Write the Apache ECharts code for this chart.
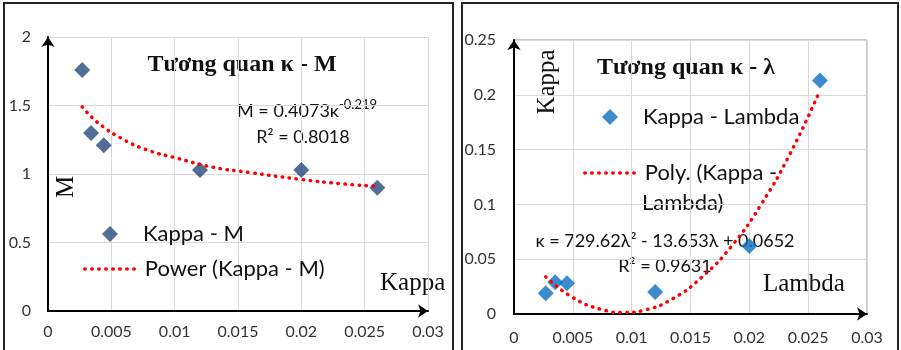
<!DOCTYPE html>
<html>
<head>
<meta charset="utf-8">
<script src="https://cdn.jsdelivr.net/npm/echarts@6/dist/echarts.min.js"></script>
<style>
  html, body { margin: 0; padding: 0; background: #fff; }
  #chart { width: 901px; height: 350px; }
</style>
</head>
<body>
<div id="chart"></div>
<script>
// Left chart: Kappa vs M
const kmKappa = [0.0027, 0.0034, 0.0044, 0.012, 0.020, 0.026]
const kmM = [1.76, 1.30, 1.21, 1.03, 1.03, 0.90]
// power trendline
const powKappa = [0.0027, 0.004, 0.006, 0.008, 0.010, 0.013, 0.016, 0.020, 0.023, 0.026]
const powM = [1.49, 1.37, 1.25, 1.17, 1.12, 1.05, 1.01, 0.96, 0.93, 0.91]

// Right chart: Lambda vs Kappa
const klLambda = [0.0027, 0.0035, 0.0045, 0.012, 0.020, 0.026]
const klKappa = [0.019, 0.029, 0.028, 0.020, 0.062, 0.213]
// polynomial trendline
const polyLambda = [0.0027, 0.005, 0.0075, 0.0094, 0.011, 0.0135, 0.016, 0.0185, 0.021, 0.0235, 0.026]
const polyKappa = [0.034, 0.015, 0.004, 0.0013, 0.0033, 0.014, 0.034, 0.062, 0.100, 0.147, 0.204]

const zip = (a, b) => a.map((v, i) => [v, b[i]])

const SANS = 'Lato'
const SERIF = '"Liberation Serif", "DejaVu Serif", serif'

const gridLine = { show: true, lineStyle: { color: '#d9d9d9', width: 1 } }
const axisLine = {
  show: true,
  onZero: false,
  symbol: ['none', 'arrow'],
  symbolSize: [10, 10],
  lineStyle: { color: '#000', width: 2 }
}
const dotted = { color: '#ff0000', width: 3.5, type: [0.5, 6.5], cap: 'round' }
const legendText = { fontFamily: SANS, fontSize: 22, lineHeight: 24, color: '#111' }

const txt = (x, y, text, font, align, extra) => Object.assign({
  type: 'text',
  x: x,
  y: y,
  style: {
    text: text,
    font: font,
    fill: '#111',
    align: align || 'center',
    textAlign: align || 'center',
    verticalAlign: 'middle',
    textVerticalAlign: 'middle'
  }
}, extra || {})

// one legend per entry so diamonds stay square and lines stay wide
const markerLegend = (name, cx, cy, gap) => ({
  data: [{ name: name, icon: 'diamond' }],
  left: cx - 8, top: cy - 12, padding: 0,
  itemWidth: 16, itemHeight: 16,
  textStyle: Object.assign({ padding: [0, 0, 0, gap] }, legendText)
})
// the line legend keeps the dotted line, its centre symbol is made transparent
const lineLegend = (name, x, cy, w, label) => ({
  data: [{ name: name, itemStyle: { color: 'rgba(0,0,0,0)', opacity: 0, borderWidth: 0 } }],
  left: x, top: cy - 12, padding: 0,
  itemWidth: w, itemHeight: 16,
  lineStyle: { color: '#ff0000', width: 3.5, type: [0.5, 6.5], cap: 'round' },
  formatter: label ? function () { return label } : '{name}',
  textStyle: legendText
})

const myChart = echarts.init(document.getElementById('chart'))

const options = {
  backgroundColor: '#fff',
  animation: false,
  grid: [
    { left: 48, top: 37, width: 380, height: 274 },
    { left: 514, top: 40, width: 353, height: 274, show: true, borderColor: '#8c8c8c', borderWidth: 1 }
  ],
  xAxis: [
    {
      gridIndex: 0, type: 'value', min: 0, max: 0.03, interval: 0.005,
      axisLine: axisLine, axisTick: { show: false }, splitLine: gridLine,
      axisLabel: { fontFamily: SANS, fontSize: 16, color: '#333', margin: 13 }
    },
    {
      gridIndex: 1, type: 'value', min: 0, max: 0.03, interval: 0.005,
      axisLine: axisLine, axisTick: { show: false }, splitLine: gridLine,
      axisLabel: { fontFamily: SANS, fontSize: 16, color: '#333', margin: 16 }
    }
  ],
  yAxis: [
    {
      gridIndex: 0, type: 'value', min: 0, max: 2, interval: 0.5,
      axisLine: axisLine, axisTick: { show: false }, splitLine: gridLine,
      axisLabel: { fontFamily: SANS, fontSize: 16, color: '#333', margin: 17 }
    },
    {
      gridIndex: 1, type: 'value', min: 0, max: 0.25, interval: 0.05,
      axisLine: axisLine, axisTick: { show: false }, splitLine: gridLine,
      axisLabel: { fontFamily: SANS, fontSize: 16, color: '#333', margin: 18 }
    }
  ],
  legend: [
    markerLegend('Kappa - M', 110, 234, 20),
    lineLegend('Power (Kappa - M)', 83, 269, 55),
    markerLegend('Kappa - Lambda', 610, 117, 20),
    lineLegend('Poly. (Kappa - Lambda)', 583, 173, 55, 'Poly. (Kappa -')
  ],
  series: [
    {
      name: 'Kappa - M', type: 'scatter', xAxisIndex: 0, yAxisIndex: 0,
      symbol: 'diamond', symbolSize: 16, itemStyle: { color: '#254a7c' },
      data: zip(kmKappa, kmM)
    },
    {
      name: 'Power (Kappa - M)', type: 'line', xAxisIndex: 0, yAxisIndex: 0,
      symbol: 'none', smooth: true, z: 5, lineStyle: dotted, itemStyle: { color: '#ff0000' },
      data: zip(powKappa, powM)
    },
    {
      name: 'Kappa - Lambda', type: 'scatter', xAxisIndex: 1, yAxisIndex: 1,
      symbol: 'diamond', symbolSize: 16, itemStyle: { color: '#0b6fc1' },
      data: zip(klLambda, klKappa)
    },
    {
      name: 'Poly. (Kappa - Lambda)', type: 'line', xAxisIndex: 1, yAxisIndex: 1,
      symbol: 'none', smooth: true, z: 5, lineStyle: dotted, itemStyle: { color: '#ff0000' },
      data: zip(polyLambda, polyKappa)
    }
  ],
  graphic: [
    // panel frames
    { type: 'rect', shape: { x: 4, y: 3, width: 449, height: 370 }, style: { fill: 'none', stroke: '#222', lineWidth: 2 }, silent: true },
    { type: 'rect', shape: { x: 462, y: 3, width: 436, height: 370 }, style: { fill: 'none', stroke: '#222', lineWidth: 2 }, silent: true },
    // left chart texts
    txt(242, 65, 'Tương quan κ - M', 'bold 24px ' + SERIF),
    txt(339, 111, 'M = 0.4073κ', '18px ' + SANS, 'right'),
    txt(339, 105, '-0.219', '13px ' + SANS, 'left'),
    txt(303, 137, 'R² = 0.8018', '18px ' + SANS),
    txt(66, 187, 'M', '25px ' + SERIF, 'center', { rotation: Math.PI / 2 }),
    txt(380, 283, 'Kappa', '25px ' + SERIF, 'left'),
    // right chart texts
    txt(686, 68, 'Tương quan κ - λ', 'bold 24px ' + SERIF),
    txt(642, 203, 'Lambda)', '22px ' + SANS, 'left'),
    txt(665, 241, 'κ = 729.62λ² - 13.653λ + 0.0652', '18px ' + SANS),
    txt(665, 266, 'R² = 0.9631', '18px ' + SANS),
    txt(547, 82, 'Kappa', '25px ' + SERIF, 'center', { rotation: Math.PI / 2 }),
    txt(763, 284, 'Lambda', '25px ' + SERIF, 'left')
  ]
}
myChart.setOption(options)
</script>
</body>
</html>
